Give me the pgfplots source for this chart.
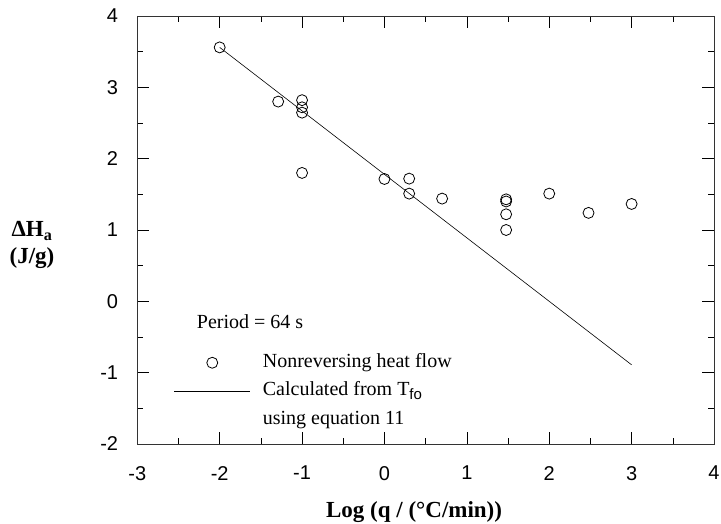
\documentclass[border=0pt]{standalone}
\usepackage{fontspec}
\setmainfont{Liberation Serif}
\newfontfamily\sansfont{Liberation Sans}
\usepackage{pgfplots}
\pgfplotsset{compat=1.18}
\pgfplotsset{
  mymark legend/.style={legend image code/.code={\draw[mark repeat=2,mark phase=2,##1] plot coordinates {(0pt,0pt) (38pt,0pt) (76pt,0pt)};}},
  myline legend/.style={legend image code/.code={\draw[##1] (0pt,0pt) -- (76pt,0pt);}},
}
\pgfplotstableread{
x y
-2 3.56
-1.29 2.80
-1 2.82
-1 2.72
-1 2.645
-1 1.80
0 1.715
0.3 1.72
0.3 1.51
0.7 1.44
1.477 1.43
1.477 1.40
1.477 1.22
1.477 1.00
2 1.51
2.477 1.24
3 1.365
}\nonrev
\pgfplotstableread{
x y
-2 3.56
3 -0.89
}\calc
\begin{document}
\begin{tikzpicture}
\path[use as bounding box] (-137.3pt,-80pt) rectangle (583.7pt,444pt);
\begin{axis}[
  at={(0,0)}, anchor=south west,
  scale only axis, width=576.7pt, height=428pt,
  xmin=-3, xmax=4, ymin=-2, ymax=4,
  xtick={-3,-2,-1,0,1,2,3,4}, ytick={-2,-1,0,1,2,3,4},
  xticklabels={-3,-2,-1,0,1,2,3,4},
  yticklabels={-2,-1,0,1,2,3,4},
  minor x tick num=1, minor y tick num=1,
  tick align=inside,
  major tick length=12pt, minor tick length=6pt,
  tick style={black, line width=0.6pt},
  axis line style={black!80, line width=0.7pt},
  ticklabel style={font=\fontsize{20}{20}\selectfont\sansfont, inner sep=0pt},
  xticklabel style={yshift=-22pt},
  yticklabel style={xshift=-19pt},
  xlabel={\bfseries Log (q / (°C/min))},
  xlabel style={font=\fontsize{23}{23}\selectfont, at={(axis description cs:0.48,-0.158)}, anchor=center},
  ylabel={\bfseries ΔH\textsubscript{a}\\\bfseries (J/g)},
  ylabel style={rotate=-90, align=center, font=\fontsize{23}{27}\selectfont, at={(axis description cs:-0.1826,0.465)}, anchor=center},
  legend style={at={(axis description cs:0.0636,0.212)}, anchor=north west, draw=none, fill=none, inner sep=0pt, outer sep=0pt, row sep=9.5pt, column sep=12.3pt, font=\fontsize{20}{20}\selectfont, nodes={inner sep=0pt, text height=14pt, text depth=5pt}},
  legend cell align=left,
]
\addplot[only marks, mark=o, mark size=5.5pt, mark options={line width=0.8pt, black}, mymark legend]
  table[x=x,y=y] {\nonrev};
\addlegendentry{Nonreversing heat flow}
\addplot[black, line width=0.6pt, no marks, myline legend]
  table[x=x,y=y] {\calc};
\addlegendentry{Calculated from T\raisebox{-0.4ex}{\fontsize{15}{15}\sansfont fo}}
\addlegendimage{empty legend}
\addlegendentry{using equation 11}
\node[anchor=base west, font=\fontsize{20}{20}\selectfont, inner sep=0pt] at (axis description cs:0.103,0.271) {Period = 64 s};
\end{axis}
\end{tikzpicture}
\end{document}
